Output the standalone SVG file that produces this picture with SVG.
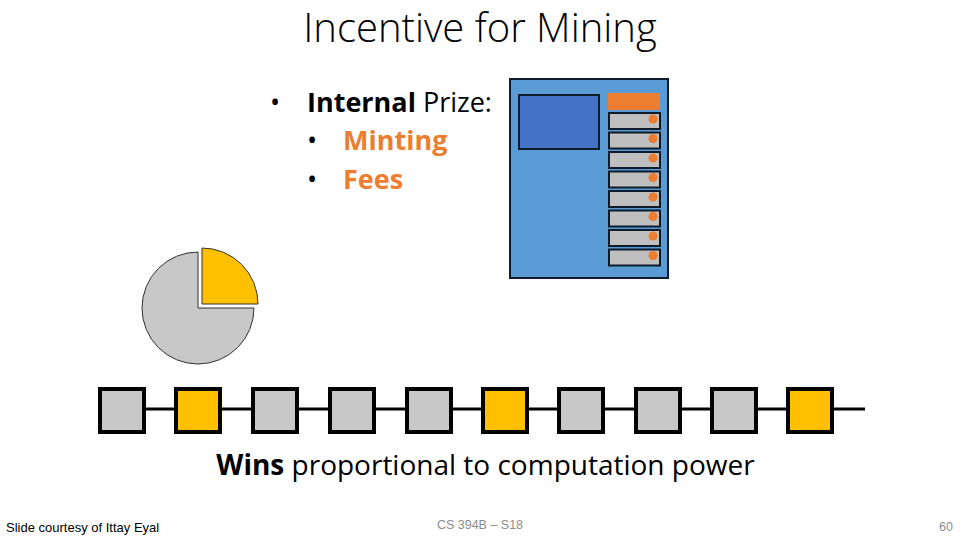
<svg xmlns="http://www.w3.org/2000/svg" width="960" height="540" viewBox="0 0 960 540">
<style>
.t{font-family:"Open Sans","Noto Sans","Liberation Sans",sans-serif;fill:#000}
.blk{stroke:#000;stroke-width:4}
.g{fill:#C8C8C8}
.y{fill:#FFC000}
.slot{fill:#BFBFBF;stroke:#0D1B2A;stroke-width:2}
.dot{fill:#ED7D31}
.or{fill:#ED7D31;font-weight:bold}
.foot{font-family:"Liberation Sans",sans-serif;font-size:12.5px;fill:#8C8C8C}
</style>
<rect width="960" height="540" fill="#fff"/>
<text class="t" x="480" y="42" text-anchor="middle" font-size="40" font-weight="300">Incentive for Mining</text>
<g id="bullets" class="t" font-size="27">
<text x="270" y="112">•</text>
<text x="307" y="112"><tspan font-weight="bold">Internal</tspan> Prize:</text>
<text x="307" y="150">•</text>
<text x="343" y="150" class="or">Minting</text>
<text x="307" y="189">•</text>
<text x="343" y="189" class="or">Fees</text>
</g>
<g id="block-box">
<rect x="510" y="79" width="158" height="199" fill="#5B9BD5" stroke="#0D1B2A" stroke-width="2"/>
<rect x="519" y="95" width="80" height="54" fill="#4472C4" stroke="#0D1B2A" stroke-width="2"/>
<rect x="608" y="93" width="52" height="17" fill="#ED7D31"/>
<rect class="slot" x="609" y="113" width="51" height="16"/>
<rect class="slot" x="609" y="132.5" width="51" height="16"/>
<rect class="slot" x="609" y="152" width="51" height="16"/>
<rect class="slot" x="609" y="171.5" width="51" height="16"/>
<rect class="slot" x="609" y="191" width="51" height="16"/>
<rect class="slot" x="609" y="210.5" width="51" height="16"/>
<rect class="slot" x="609" y="230" width="51" height="16"/>
<rect class="slot" x="609" y="249.5" width="51" height="16"/>
<circle class="dot" cx="653" cy="119" r="4.5"/>
<circle class="dot" cx="653" cy="138.5" r="4.5"/>
<circle class="dot" cx="653" cy="158" r="4.5"/>
<circle class="dot" cx="653" cy="177.5" r="4.5"/>
<circle class="dot" cx="653" cy="197" r="4.5"/>
<circle class="dot" cx="653" cy="216.5" r="4.5"/>
<circle class="dot" cx="653" cy="236" r="4.5"/>
<circle class="dot" cx="653" cy="255.5" r="4.5"/>
</g>
<g id="pie" stroke="#333" stroke-width="1">
<path d="M198 308 L198 252 A56 56 0 1 0 254 308 Z" fill="#C8C8C8"/>
<path d="M202 304 L202 248 A56 56 0 0 1 258 304 Z" fill="#FFC000"/>
</g>
<g id="connectors" stroke="#000" stroke-width="3">
<line x1="145" y1="409" x2="865" y2="409"/>
</g>
<g id="chain">
<rect id="b1" class="blk g" x="100" y="389" width="44" height="43"/>
<rect id="b2" class="blk y" x="176" y="389" width="44" height="43"/>
<rect id="b3" class="blk g" x="253" y="389" width="44" height="43"/>
<rect id="b4" class="blk g" x="330" y="389" width="44" height="43"/>
<rect id="b5" class="blk g" x="407" y="389" width="44" height="43"/>
<rect id="b6" class="blk y" x="483" y="389" width="44" height="43"/>
<rect id="b7" class="blk g" x="559" y="389" width="44" height="43"/>
<rect id="b8" class="blk g" x="636" y="389" width="44" height="43"/>
<rect id="b9" class="blk g" x="712" y="389" width="44" height="43"/>
<rect id="b10" class="blk y" x="788" y="389" width="44" height="43"/>
</g>
<text class="t" x="485.5" y="475" text-anchor="middle" font-size="28"><tspan font-weight="bold">Wins</tspan> proportional to computation power</text>
<text x="6" y="532" font-family="'Liberation Sans',sans-serif" font-size="13" fill="#000">Slide courtesy of Ittay Eyal</text>
<text class="foot" x="480" y="529" text-anchor="middle">CS 394B – S18</text>
<text class="foot" x="953" y="531" text-anchor="end">60</text>
</svg>
